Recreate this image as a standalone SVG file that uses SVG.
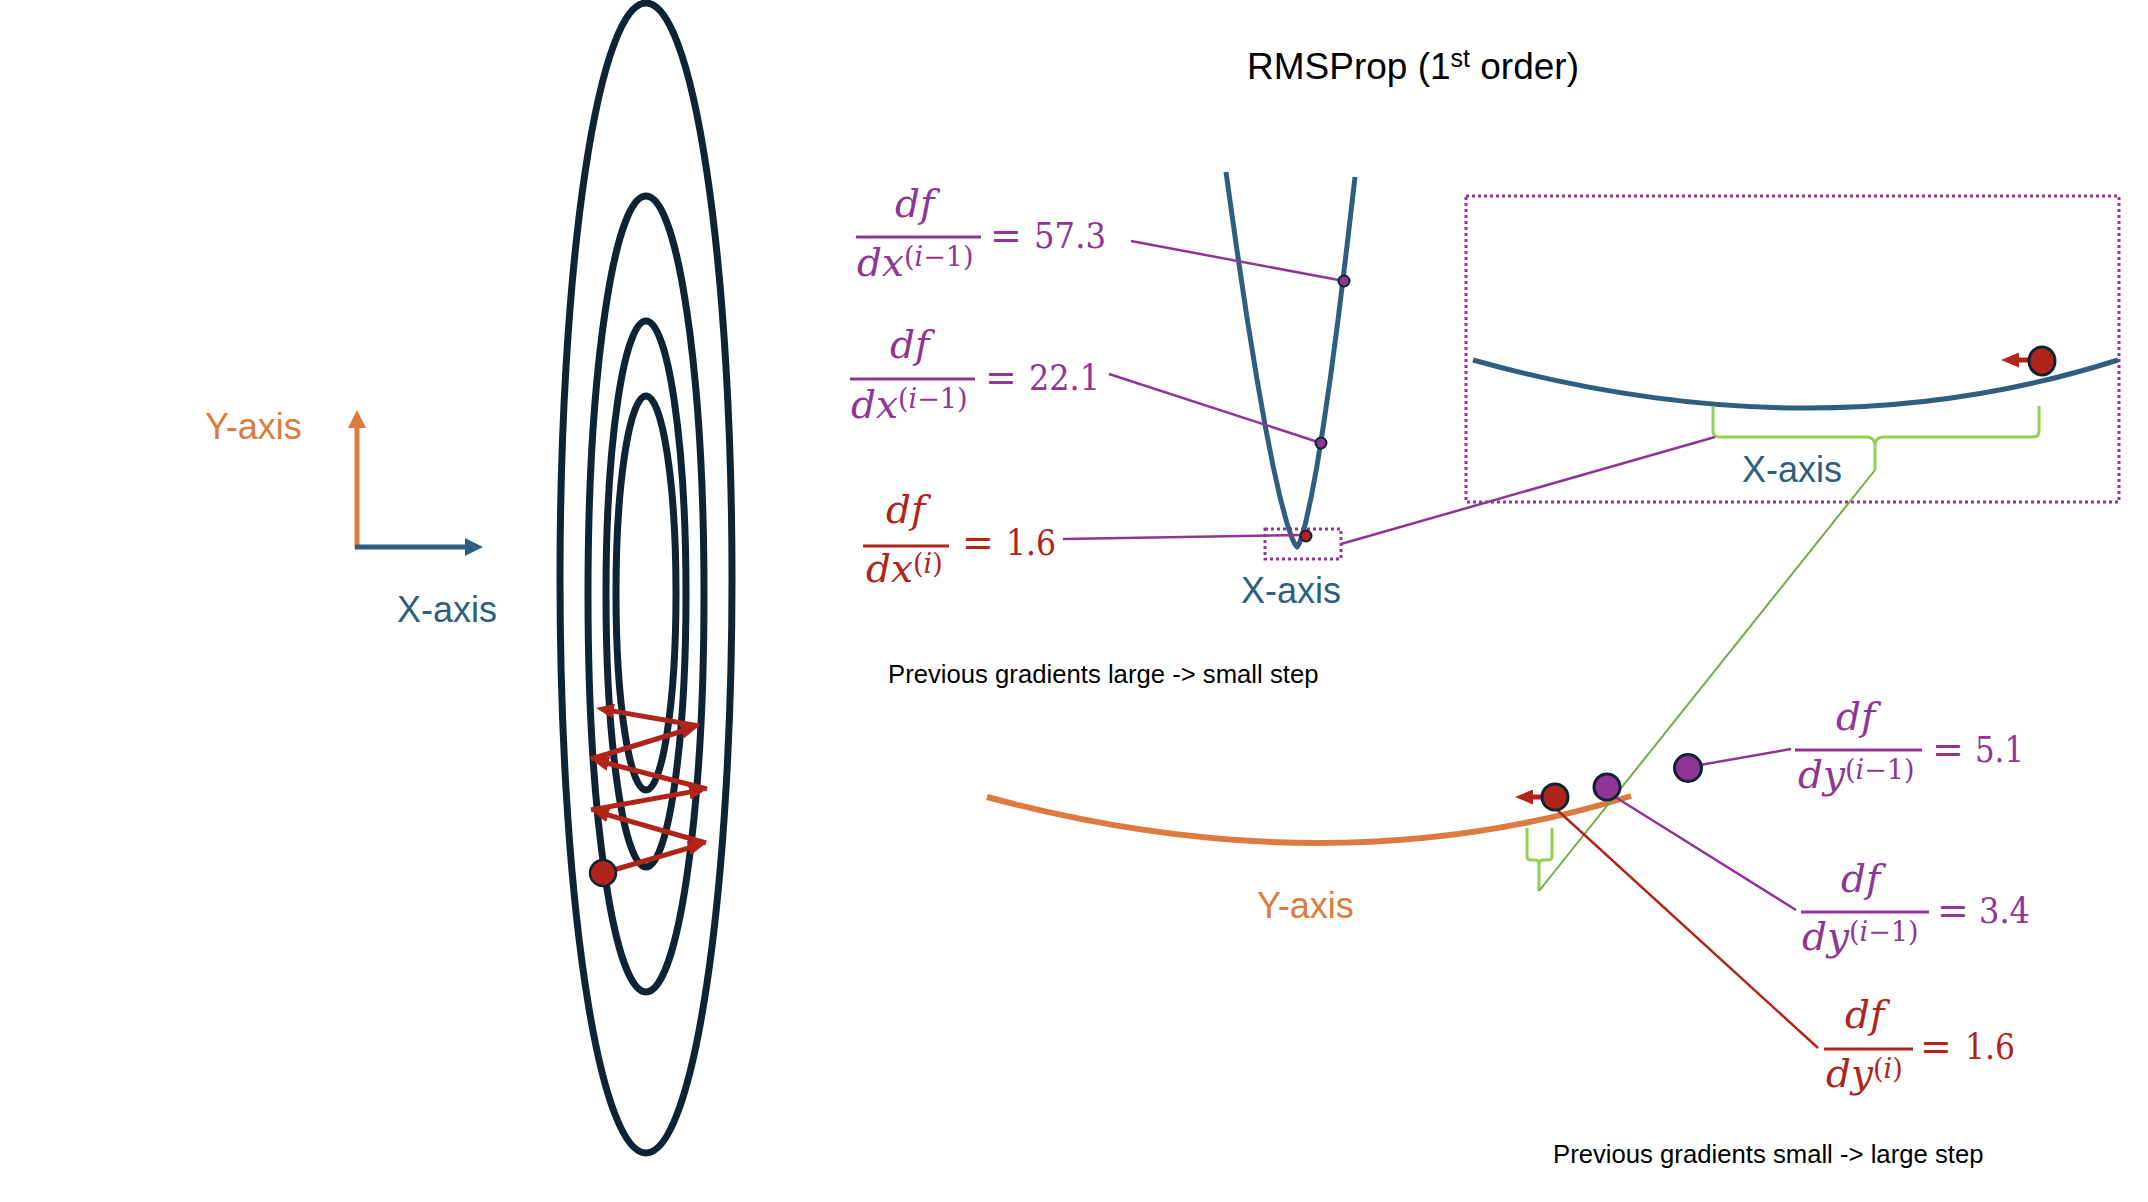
<svg xmlns="http://www.w3.org/2000/svg" width="2148" height="1202" viewBox="0 0 2148 1202">
<style>
.contour{fill:none;stroke:#0E2435;stroke-width:7}
.sans{font-family:"Liberation Sans",Arial,sans-serif}
.lbl{font-size:36px}
.blue{fill:#2F5F80}
.orange{fill:#DE7A3E}
.cap{font-size:25.7px;fill:#000}
.m{font-family:"DejaVu Serif",serif;font-size:39px;font-style:italic}
.s{font-size:27px;font-style:normal}
.i{font-style:italic}
.n{font-family:"DejaVu Serif",serif;font-size:35px}
.eq{font-family:"DejaVu Sans",sans-serif;font-size:38px}
.pu{fill:#8E3595}
.rd{fill:#B0241A}
.barP{stroke:#8E3595;stroke-width:3}
.barR{stroke:#B0241A;stroke-width:3}
.lnP{stroke:#8E3595;stroke-width:2.5;fill:none}
.lnR{stroke:#B0241A;stroke-width:2.5;fill:none}
.zig{stroke:#B0241A;stroke-width:5;fill:none;marker-end:url(#ah)}
.dots{fill:none;stroke:#8E3595;stroke-width:3;stroke-dasharray:3 3}
.ball{stroke:#0E2435;stroke-width:3}
.brace{fill:none;stroke:#92D050;stroke-width:3}
</style>
<defs>
<marker id="ah" viewBox="0 0 18 15" refX="6" refY="7.5" markerWidth="18" markerHeight="15" markerUnits="userSpaceOnUse" orient="auto">
<path d="M0,0 L18,7.5 L0,15 z" fill="#B0241A"/>
</marker>
<marker id="ahO" viewBox="0 0 18 18" refX="6" refY="9" markerWidth="18" markerHeight="18" markerUnits="userSpaceOnUse" orient="auto">
<path d="M0,0 L18,9 L0,18 z" fill="#DE7A3E"/>
</marker>
<marker id="ahB" viewBox="0 0 18 18" refX="6" refY="9" markerWidth="18" markerHeight="18" markerUnits="userSpaceOnUse" orient="auto">
<path d="M0,0 L18,9 L0,18 z" fill="#2F5F80"/>
</marker>
</defs>

<g id="title">
<text class="sans" x="1247" y="79" font-size="37" fill="#000">RMSProp (1<tspan font-size="25" dy="-12">st</tspan><tspan dy="12"> order)</tspan></text>
</g>

<g id="axes">
<line x1="357" y1="549" x2="357" y2="422" stroke="#DE7A3E" stroke-width="5" marker-end="url(#ahO)"/>
<line x1="355" y1="547" x2="471" y2="547" stroke="#2F5F80" stroke-width="5" marker-end="url(#ahB)"/>
<text class="sans lbl orange" x="205" y="439">Y-axis</text>
<text class="sans lbl blue" x="397" y="622">X-axis</text>
</g>

<g id="contours">
<ellipse class="contour" cx="646" cy="578" rx="86" ry="575"/>
<ellipse class="contour" cx="646" cy="594" rx="58" ry="398"/>
<ellipse class="contour" cx="646" cy="594" rx="40" ry="273"/>
<ellipse class="contour" cx="646" cy="593" rx="30" ry="197"/>
</g>

<g id="zigzag">
<line class="zig" x1="603" y1="873" x2="694.5" y2="846.4"/>
<line class="zig" x1="706" y1="843" x2="602.5" y2="813.3"/>
<line class="zig" x1="591" y1="810" x2="695.2" y2="791.1"/>
<line class="zig" x1="707" y1="789" x2="602.6" y2="762"/>
<line class="zig" x1="591" y1="759" x2="687.5" y2="729.5"/>
<line class="zig" x1="699" y1="726" x2="607.8" y2="710.1"/>
<circle cx="603" cy="873" r="13" fill="#B0241A" stroke="#0E2435" stroke-width="2.5"/>
</g>

<g id="parabola">
<path d="M1226,172 L1236.5,247 L1246.9,317 L1256.6,377 L1265.4,427 L1273.3,467 L1280,497 L1286.6,522 L1291.6,537 L1294.7,544 L1297,547 L1299,544 L1301.6,537 L1305.8,522 L1311.2,497 L1316.8,467 L1323.2,427 L1330.5,377 L1338.4,317 L1346.9,247 L1355,177" fill="none" stroke="#2F5F80" stroke-width="5" stroke-linejoin="round"/>
<text class="sans lbl blue" x="1241" y="603">X-axis</text>
<rect class="dots" x="1265" y="529" width="76" height="30"/>
</g>

<g id="zoombox">
<rect class="dots" x="1466" y="196" width="653" height="306"/>
<path d="M1473,360 Q1816.5,456 2118,360" fill="none" stroke="#2F5F80" stroke-width="5"/>
<path class="brace" d="M1713,406 L1713,431 Q1713,437 1719,437 L1867,437 Q1875,437 1875,446 L1875,470 M2039,406 L2039,431 Q2039,437 2033,437 L1883,437 Q1875,437 1875,446"/>
<text class="sans lbl blue" x="1742" y="482">X-axis</text>
</g>

<g id="ycurve">
<path d="M987,797 Q1331,889.5 1631,796" fill="none" stroke="#DE7A3E" stroke-width="6"/>
<text class="sans lbl orange" x="1257" y="918">Y-axis</text>
<path class="brace" d="M1527,828 L1527,856 Q1527,860 1531,860 L1535,860 Q1539,860 1539,864 L1539,891 M1552,828 L1552,856 Q1552,860 1548,860 L1543,860 Q1539,860 1539,864"/>
</g>

<g id="connectors">
<line class="lnP" x1="1131" y1="241" x2="1344" y2="281"/>
<line class="lnP" x1="1109" y1="374" x2="1321" y2="443"/>
<line class="lnP" x1="1063" y1="539" x2="1304" y2="535"/>
<line class="lnP" x1="1341" y1="544" x2="1715" y2="437"/>
<line x1="1539" y1="891" x2="1875" y2="470" stroke="#70AD47" stroke-width="2"/>
<line class="lnP" x1="1700" y1="765" x2="1791" y2="749"/>
<line class="lnP" x1="1612" y1="795" x2="1796" y2="910"/>
<line class="lnR" x1="1555" y1="808" x2="1818" y2="1048"/>
<line stroke="#B0241A" stroke-width="5" x1="2030" y1="360" x2="2013" y2="360" marker-end="url(#ah)"/>
<line stroke="#B0241A" stroke-width="5" x1="1542" y1="797" x2="1527" y2="797" marker-end="url(#ah)"/>
</g>

<g id="points">
<circle cx="1344" cy="281" r="5.5" fill="#8E3595" stroke="#0E2435" stroke-width="2"/>
<circle cx="1321" cy="443" r="5.5" fill="#8E3595" stroke="#0E2435" stroke-width="2"/>
<circle cx="1306" cy="536" r="5.5" fill="#B0241A" stroke="#0E2435" stroke-width="2"/>
<ellipse class="ball" cx="2042" cy="361" rx="13" ry="14" fill="#B0241A"/>
<circle class="ball" cx="1555" cy="797" r="13" fill="#B0241A"/>
<circle class="ball" cx="1607" cy="787" r="13" fill="#8E3595"/>
<circle class="ball" cx="1688" cy="768" r="13.5" fill="#8E3595"/>
</g>

<g id="fx1" class="pu">
<text class="m" x="895" y="217">df</text>
<line class="barP" x1="856" y1="237" x2="981" y2="237"/>
<text class="m" x="857" y="276">dx<tspan class="s" dy="-10">(<tspan class="i">i</tspan>−1)</tspan></text>
<text class="eq" x="990" y="248">=</text>
<text class="n" x="1034" y="248" textLength="72" lengthAdjust="spacingAndGlyphs">57.3</text>
</g>
<g id="fx2" class="pu">
<text class="m" x="890" y="358">df</text>
<line class="barP" x1="850" y1="379" x2="975" y2="379"/>
<text class="m" x="851" y="418">dx<tspan class="s" dy="-10">(<tspan class="i">i</tspan>−1)</tspan></text>
<text class="eq" x="985" y="390">=</text>
<text class="n" x="1029" y="390" textLength="71" lengthAdjust="spacingAndGlyphs">22.1</text>
</g>
<g id="fx3" class="rd">
<text class="m" x="886" y="523">df</text>
<line class="barR" x1="863" y1="546" x2="949" y2="546"/>
<text class="m" x="866" y="582">dx<tspan class="s" dy="-9">(<tspan class="i">i</tspan>)</tspan></text>
<text class="eq" x="962" y="555">=</text>
<text class="n" x="1006" y="555" textLength="50" lengthAdjust="spacingAndGlyphs">1.6</text>
</g>
<g id="fy1" class="pu">
<text class="m" x="1836" y="730">df</text>
<line class="barP" x1="1795" y1="750" x2="1922" y2="750"/>
<text class="m" x="1798" y="788">dy<tspan class="s" dy="-9">(<tspan class="i">i</tspan>−1)</tspan></text>
<text class="eq" x="1932" y="762">=</text>
<text class="n" x="1975" y="762" textLength="49" lengthAdjust="spacingAndGlyphs">5.1</text>
</g>
<g id="fy2" class="pu">
<text class="m" x="1841" y="892">df</text>
<line class="barP" x1="1801" y1="912" x2="1929" y2="912"/>
<text class="m" x="1802" y="950">dy<tspan class="s" dy="-9">(<tspan class="i">i</tspan>−1)</tspan></text>
<text class="eq" x="1937" y="923">=</text>
<text class="n" x="1979" y="923" textLength="51" lengthAdjust="spacingAndGlyphs">3.4</text>
</g>
<g id="fy3" class="rd">
<text class="m" x="1845" y="1028">df</text>
<line class="barR" x1="1824" y1="1049" x2="1913" y2="1049"/>
<text class="m" x="1826" y="1087">dy<tspan class="s" dy="-9">(<tspan class="i">i</tspan>)</tspan></text>
<text class="eq" x="1920" y="1059">=</text>
<text class="n" x="1965" y="1059" textLength="50" lengthAdjust="spacingAndGlyphs">1.6</text>
</g>

<g id="captions">
<text class="sans cap" x="888" y="683">Previous gradients large -&gt; small step</text>
<text class="sans cap" x="1553" y="1163">Previous gradients small -&gt; large step</text>
</g>
</svg>
